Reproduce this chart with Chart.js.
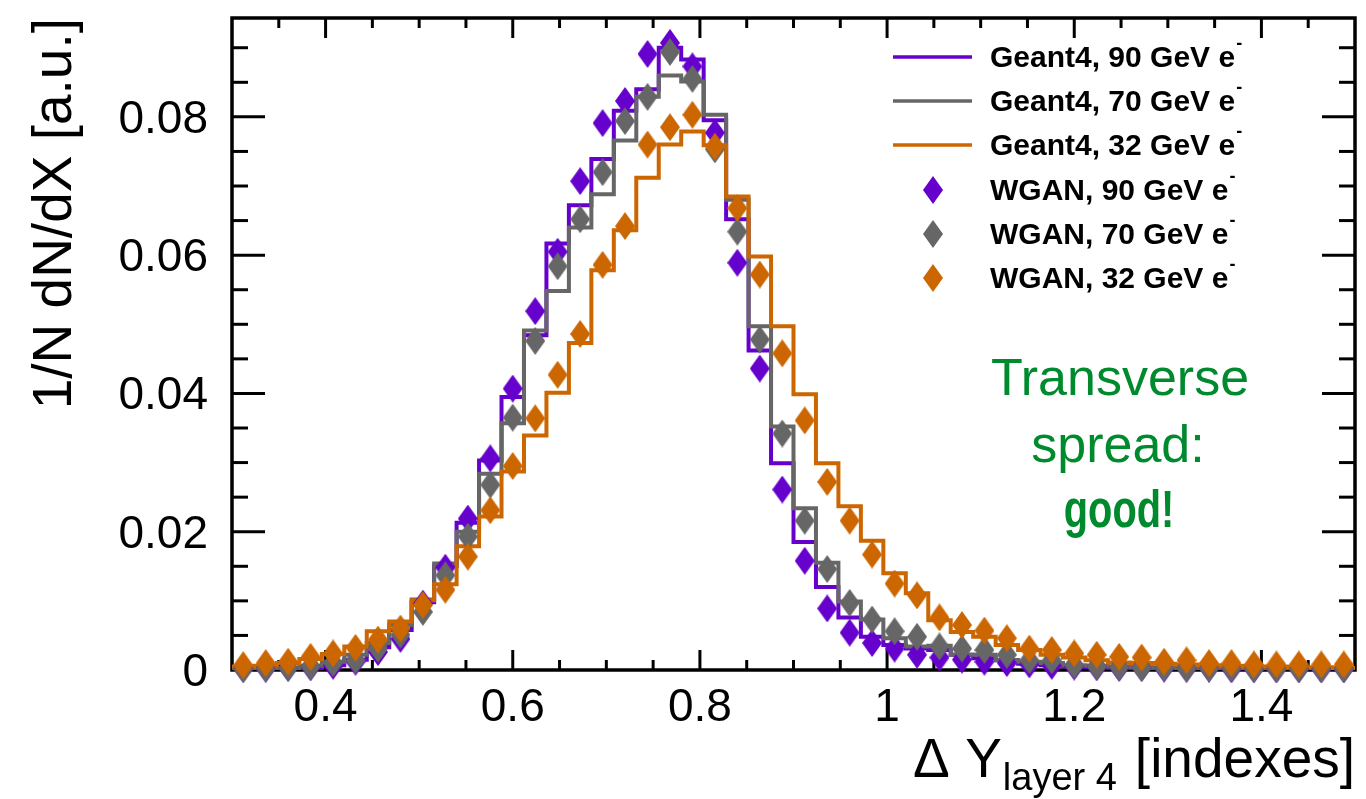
<!DOCTYPE html>
<html lang="en">
<head>
<meta charset="UTF-8">
<title>Transverse spread, layer 4</title>
<script src="https://cdn.jsdelivr.net/npm/chart.js@4"></script>
<style>
  html, body { margin: 0; padding: 0; background: #fff; }
</style>
</head>
<body>
<canvas id="spread-chart" width="1366" height="799"></canvas>
<script>
// 50 bins of 0.024 between 0.3 and 1.5
const binLow = 0.3;
const binWidth = 0.024;

// Geant4 reference histograms
const g4_90 = [0.0001,0.0001,0.0002,0.0003,0.0007,0.0015,0.0033,0.0058,0.0098,0.0150,
               0.0213,0.0303,0.0395,0.0484,0.0617,0.0672,0.0739,0.0809,0.0840,0.0900,
               0.0883,0.0795,0.0652,0.0462,0.0299,0.0185,0.0120,0.0076,0.0048,0.0036,
               0.0031,0.0029,0.0022,0.0017,0.0014,0.0009,0.0007,0.0005,0.0004,0.0003,
               0.0002,0.0002,0.0001,0.0001,0.0001,0.0001,0.0001,0.0000,0.0000,0.0000];
const g4_70 = [0.0001,0.0002,0.0003,0.0006,0.0012,0.0022,0.0039,0.0065,0.0102,0.0154,
               0.0200,0.0284,0.0357,0.0491,0.0548,0.0640,0.0688,0.0766,0.0829,0.0860,
               0.0851,0.0803,0.0680,0.0497,0.0352,0.0234,0.0155,0.0099,0.0073,0.0046,
               0.0034,0.0035,0.0022,0.0022,0.0014,0.0012,0.0010,0.0007,0.0006,0.0005,
               0.0004,0.0003,0.0002,0.0002,0.0001,0.0001,0.0001,0.0001,0.0000,0.0000];
const g4_32 = [0.0005,0.0006,0.0010,0.0016,0.0023,0.0034,0.0056,0.0070,0.0101,0.0124,
               0.0179,0.0222,0.0287,0.0339,0.0401,0.0473,0.0578,0.0636,0.0712,0.0760,
               0.0779,0.0759,0.0685,0.0598,0.0497,0.0399,0.0299,0.0237,0.0187,0.0140,
               0.0111,0.0072,0.0055,0.0048,0.0036,0.0029,0.0022,0.0018,0.0014,0.0011,
               0.0010,0.0009,0.0008,0.0007,0.0006,0.0005,0.0005,0.0004,0.0004,0.0003];

// WGAN generated showers
const wgan_90 = [0.0002,0.0002,0.0003,0.0004,0.0006,0.0012,0.0026,0.0045,0.0096,0.0148,
                 0.0219,0.0306,0.0407,0.0519,0.0605,0.0707,0.0791,0.0823,0.0891,0.0907,
                 0.0873,0.0777,0.0589,0.0436,0.0261,0.0158,0.0089,0.0054,0.0039,0.0031,
                 0.0022,0.0018,0.0015,0.0012,0.0010,0.0008,0.0006,0.0005,0.0004,0.0003,
                 0.0003,0.0002,0.0002,0.0002,0.0001,0.0001,0.0001,0.0001,0.0001,0.0001];
const wgan_70 = [0.0001,0.0002,0.0003,0.0005,0.0010,0.0014,0.0031,0.0051,0.0084,0.0137,
                 0.0193,0.0268,0.0365,0.0476,0.0584,0.0652,0.0720,0.0794,0.0829,0.0894,
                 0.0855,0.0753,0.0634,0.0478,0.0342,0.0216,0.0146,0.0097,0.0073,0.0056,
                 0.0048,0.0034,0.0031,0.0029,0.0022,0.0014,0.0014,0.0007,0.0005,0.0004,
                 0.0003,0.0003,0.0002,0.0002,0.0002,0.0001,0.0001,0.0001,0.0001,0.0001];
const wgan_32 = [0.0007,0.0010,0.0012,0.0019,0.0024,0.0032,0.0044,0.0060,0.0094,0.0116,
                 0.0164,0.0231,0.0295,0.0364,0.0427,0.0486,0.0586,0.0642,0.0760,0.0785,
                 0.0803,0.0757,0.0668,0.0572,0.0458,0.0361,0.0272,0.0216,0.0167,0.0125,
                 0.0108,0.0076,0.0065,0.0057,0.0046,0.0031,0.0029,0.0024,0.0022,0.0019,
                 0.0018,0.0012,0.0014,0.0010,0.0010,0.0008,0.0008,0.0008,0.0008,0.0008];

const xTicks = [0.4, 0.6, 0.8, 1.0, 1.2, 1.4];
const xTickLabels = ['0.4', '0.6', '0.8', '1', '1.2', '1.4'];
const yTicks = [0, 0.02, 0.04, 0.06, 0.08];
const yTickLabels = ['0', '0.02', '0.04', '0.06', '0.08'];

const legendNames = ['Geant4, 90 GeV e', 'Geant4, 70 GeV e', 'Geant4, 32 GeV e',
                     'WGAN, 90 GeV e', 'WGAN, 70 GeV e', 'WGAN, 32 GeV e'];

const PURPLE = '#6600cc', GREY = '#666666', ORANGE = '#cc6600';
const FONT = "'Liberation Sans', Arial, Helvetica, sans-serif";

// histogram as step line: one point per lower bin edge plus the closing edge
function histPoints(vals) {
  const pts = vals.map((v, i) => ({ x: binLow + i * binWidth, y: v }));
  pts.push({ x: binLow + vals.length * binWidth, y: vals[vals.length - 1] });
  return pts;
}
function markerPoints(vals) {
  return vals.map((v, i) => ({ x: binLow + (i + 0.5) * binWidth, y: v }));
}

// ROOT style full diamond marker (taller than wide)
function diamond(color) {
  const w = 20, h = 28;
  const c = document.createElement('canvas');
  c.width = w; c.height = h;
  const g = c.getContext('2d');
  g.fillStyle = color;
  g.beginPath();
  g.moveTo(w / 2, 0);
  g.lineTo(w, h / 2);
  g.lineTo(w / 2, h);
  g.lineTo(0, h / 2);
  g.closePath();
  g.fill();
  return c;
}
const marks = { purple: diamond(PURPLE), grey: diamond(GREY), orange: diamond(ORANGE) };

function hist(label, vals, color, order) {
  return {
    type: 'line', label, data: histPoints(vals), order,
    borderColor: color, borderWidth: 4, stepped: 'before',
    pointRadius: 0, fill: false, tension: 0
  };
}
function markers(label, vals, style, order) {
  return {
    type: 'scatter', label, data: markerPoints(vals), order,
    pointStyle: style, pointRadius: 10, showLine: false, clip: false
  };
}

function line(ctx, x1, y1, x2, y2) {
  ctx.beginPath(); ctx.moveTo(x1, y1); ctx.lineTo(x2, y2); ctx.stroke();
}

// frame with inward ticks on all four sides
const framePlugin = {
  id: 'rootFrame',
  beforeDatasetsDraw(chart) {
    const { ctx, chartArea: a, scales: { x, y } } = chart;
    ctx.save();
    ctx.strokeStyle = '#000';
    ctx.lineWidth = 3;
    for (let i = 7; i <= 29; i++) {
      const px = x.getPixelForValue(i * 0.05);
      const len = i % 4 === 0 ? 20 : 10;
      line(ctx, px, a.bottom, px, a.bottom - len);
      line(ctx, px, a.top, px, a.top + len);
    }
    for (let i = 1; i <= 18; i++) {
      const py = y.getPixelForValue(i * 0.005);
      const len = i % 4 === 0 ? 33 : 16;
      line(ctx, a.left, py, a.left + len, py);
      line(ctx, a.right, py, a.right - len, py);
    }
    ctx.lineWidth = 3.5;
    ctx.strokeRect(a.left, a.top, a.right - a.left, a.bottom - a.top);
    ctx.restore();
  },
  afterDraw(chart) {
    const { ctx, chartArea: a, scales: { x, y } } = chart;
    ctx.save();
    ctx.fillStyle = '#000';

    // tick labels
    ctx.font = '46px ' + FONT;
    ctx.textAlign = 'center';
    ctx.textBaseline = 'alphabetic';
    xTicks.forEach((v, i) => ctx.fillText(xTickLabels[i], x.getPixelForValue(v), 721));
    ctx.textAlign = 'right';
    yTicks.forEach((v, i) => ctx.fillText(yTickLabels[i], 208, y.getPixelForValue(v) + 16));

    // x title with subscript
    ctx.font = '55px ' + FONT;
    ctx.textAlign = 'right';
    ctx.fillText('[indexes]', a.right, 777);
    let xr = a.right - ctx.measureText('[indexes]').width - 18;
    ctx.font = '38px ' + FONT;
    ctx.fillText('layer 4', xr, 790);
    xr -= ctx.measureText('layer 4').width + 1;
    ctx.font = '55px ' + FONT;
    ctx.fillText('\u0394 Y', xr, 777);

    // y title
    ctx.save();
    ctx.translate(71, a.top);
    ctx.rotate(-Math.PI / 2);
    ctx.textAlign = 'right';
    ctx.fillText('1/N dN/dX [a.u.]', 0, 0);
    ctx.restore();

    // legend
    const rows = [57, 101, 145, 190, 234, 278];
    const cols = [PURPLE, GREY, ORANGE];
    ctx.lineWidth = 3.5;
    rows.forEach((ry, i) => {
      if (i < 3) {
        ctx.strokeStyle = cols[i];
        line(ctx, 893, ry, 972, ry);
      } else {
        const m = [marks.purple, marks.grey, marks.orange][i - 3];
        ctx.drawImage(m, 933 - m.width / 2, ry - m.height / 2);
      }
      ctx.fillStyle = '#000';
      ctx.textAlign = 'left';
      ctx.font = 'bold 30px ' + FONT;
      ctx.fillText(legendNames[i], 990, ry + 10);
      const w = ctx.measureText(legendNames[i]).width;
      ctx.font = 'bold 18px ' + FONT;
      ctx.fillText('-', 990 + w + 1, ry - 8);
    });

    // annotation
    ctx.fillStyle = '#008a2e';
    ctx.textAlign = 'center';
    ctx.font = '52px ' + FONT;
    ctx.fillText('Transverse', 1120, 395);
    ctx.fillText('spread:', 1118, 462);
    ctx.save();
    ctx.translate(1119, 527);
    ctx.scale(0.78, 1);
    ctx.font = 'bold 51px ' + FONT;
    ctx.fillText('good!', 0, 0);
    ctx.restore();

    ctx.restore();
  }
};

new Chart(document.getElementById('spread-chart'), {
  type: 'scatter',
  data: {
    datasets: [
      markers(legendNames[5], wgan_32, marks.orange, 1),
      markers(legendNames[4], wgan_70, marks.grey, 2),
      markers(legendNames[3], wgan_90, marks.purple, 3),
      hist(legendNames[2], g4_32, ORANGE, 4),
      hist(legendNames[1], g4_70, GREY, 5),
      hist(legendNames[0], g4_90, PURPLE, 6)
    ]
  },
  options: {
    responsive: false,
    animation: false,
    layout: { padding: { left: 232, right: 9, top: 18, bottom: 129 } },
    scales: {
      x: { type: 'linear', min: 0.3, max: 1.5, display: false },
      y: { type: 'linear', min: 0, max: 0.0943, display: false }
    },
    plugins: { legend: { display: false }, tooltip: { enabled: false } }
  },
  plugins: [framePlugin]
});
</script>
</body>
</html>
